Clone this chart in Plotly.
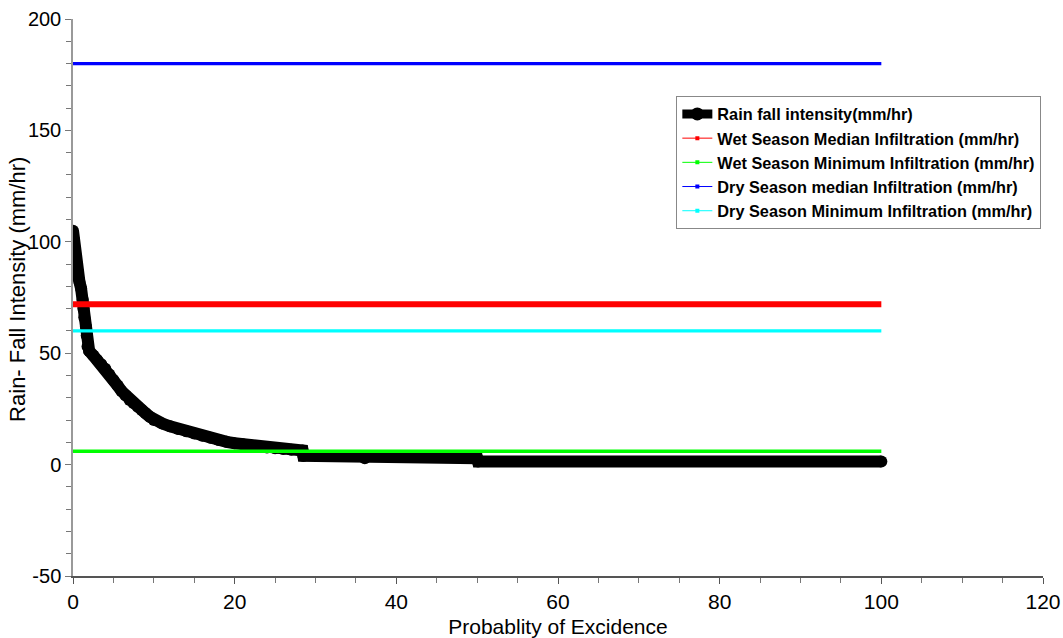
import plotly.graph_objects as go

# Rainfall exceedance curve
rain_x = [0, 0.1, 0.2, 0.3, 0.4, 0.6, 0.8, 1.0, 1.2, 1.3, 1.4, 1.6, 1.7, 1.8, 2.0,
          2.5, 3.0, 3.5, 4.0, 4.5, 5.0, 5.5, 6.0, 6.5, 7.0, 7.5, 8.0, 8.5, 9.0, 9.5,
          10, 11, 12, 13, 14, 15, 16, 17, 18, 19, 20, 21, 22, 23, 24, 25, 26, 27, 28.4,
          28.5, 36, 36.1, 50, 50.1, 100]
rain_y = [105, 101, 94, 88, 86, 84, 82, 79, 74, 70, 66, 62, 58, 53, 51,
          49, 47, 45, 43, 40.5, 38, 35.5, 33, 31, 29, 27.5, 26, 24.5, 23, 21.5,
          20, 18.5, 17.2, 16, 15, 14, 13, 12, 11, 10.2, 9.6, 9.1, 8.6, 8.1, 7.7, 7.3, 7.0, 6.7, 6.3,
          3.9, 3.9, 2.9, 2.9, 1.4, 1.4]

line_x = [0, 100]
wet_median = [72, 72]
wet_min = [6, 6]
dry_median = [180, 180]
dry_min = [60, 60]

names = ["Rain fall intensity(mm/hr)",
         "Wet Season Median Infiltration (mm/hr)",
         "Wet Season Minimum Infiltration (mm/hr)",
         "Dry Season median Infiltration (mm/hr)",
         "Dry Season Minimum Infiltration (mm/hr)"]
colors = ["black", "#ff0000", "#00ff00", "#0000ff", "#00ffff"]

y_tickvals = [-50, 0, 50, 100, 150, 200]
y_ticktext = ["-50", "0", "50", "100", "150", "200"]

FONT = "Liberation Sans, Arial, sans-serif"

fig = go.Figure()
# data traces
fig.add_trace(go.Scatter(x=rain_x, y=rain_y, mode="lines+markers", showlegend=False,
                         legendgroup="g0",
                         line=dict(color=colors[0], width=12),
                         marker=dict(color=colors[0], size=12, symbol="circle")))
for i, yv, w in [(1, wet_median, 6), (2, wet_min, 3.5), (3, dry_median, 3.3), (4, dry_min, 3.3)]:
    fig.add_trace(go.Scatter(x=line_x, y=yv, mode="lines", showlegend=False,
                             legendgroup="g%d" % i,
                             line=dict(color=colors[i], width=w)))
# legend entries
fig.add_trace(go.Scatter(x=[None], y=[None], mode="lines+markers", name=names[0],
                         legendgroup="g0",
                         line=dict(color=colors[0], width=9),
                         marker=dict(color=colors[0], size=13, symbol="circle")))
for i in range(1, 5):
    fig.add_trace(go.Scatter(x=[None], y=[None], mode="lines+markers", name=names[i],
                             legendgroup="g%d" % i,
                             line=dict(color=colors[i], width=1),
                             marker=dict(color=colors[i], size=4, symbol="square")))

fig.update_layout(
    width=1063, height=638,
    margin=dict(l=73, r=20, t=19, b=62),
    paper_bgcolor="white", plot_bgcolor="white",
    font=dict(family=FONT, color="black"),
    showlegend=True,
    legend=dict(x=0.622, y=0.862, xanchor="left", yanchor="top",
                bordercolor="#888888", borderwidth=1, bgcolor="white",
                font=dict(family=FONT, size=16.3, color="black", weight="bold"),
                tracegroupgap=0, itemwidth=30),
    annotations=[dict(text="Rain- Fall Intensity (mm/hr)", textangle=-90,
                      xref="paper", yref="paper", x=-0.058, y=0.515,
                      xanchor="center", yanchor="middle", showarrow=False,
                      font=dict(size=22, family=FONT, color="black"))],
)
fig.update_xaxes(range=[0, 120], dtick=20, tick0=0, showgrid=False, zeroline=False,
                 automargin=False,
                 showline=True, linecolor="#555555", linewidth=1.5,
                 ticks="outside", ticklen=6, tickcolor="#555555",
                 tickfont=dict(size=21, family=FONT),
                 minor=dict(dtick=5, ticks="outside", ticklen=5, tickcolor="#777777"),
                 title=dict(text="Probablity of Excidence", font=dict(size=21, family=FONT)))
fig.update_yaxes(range=[-50, 200], tickvals=y_tickvals, ticktext=y_ticktext,
                 showgrid=False, zeroline=False, automargin=False,
                 showline=True, linecolor="#999999", linewidth=1.5,
                 ticks="outside", ticklen=6, tickcolor="#777777",
                 tickfont=dict(size=20, family=FONT),
                 minor=dict(dtick=10, ticks="outside", ticklen=5, tickcolor="#777777"))

fig.write_html("out.html")
